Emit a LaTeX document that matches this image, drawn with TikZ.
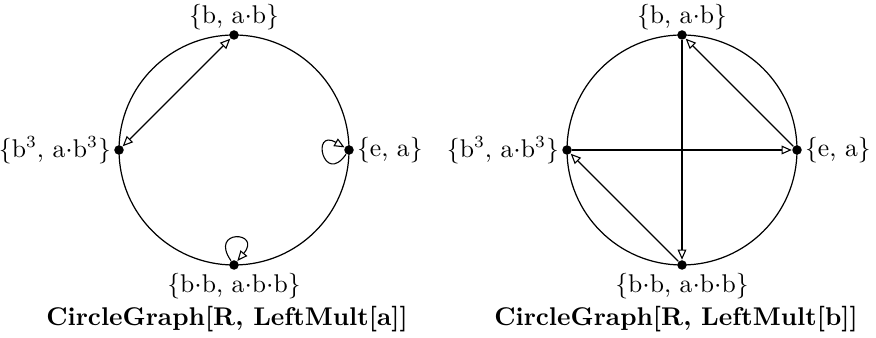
\documentclass[tikz,border=0pt]{standalone}
\usepackage{tikz}
\usetikzlibrary{arrows.meta, positioning}
\tikzset{
  vdot/.style ={circle, fill=black, inner sep=0pt, minimum size=3.9pt},
  vlbl/.style ={inner sep=1pt},
  garr/.style ={-{Triangle[open, length=4.2pt, width=3.6pt]}, line width=0.45pt},
  gdarr/.style={{Triangle[open, length=4.2pt, width=3.6pt]}-{Triangle[open, length=4.2pt, width=3.6pt]}, line width=0.45pt},
  gloop/.style={garr, min distance=16pt},
  gcap/.style ={font=\fontsize{10.5}{13}\selectfont\bfseries, inner sep=1pt},
  rim/.style  ={line width=0.5pt},
}
\begin{document}
\begin{tikzpicture}[x=0.41pt, y=-0.41pt, font=\fontsize{10.5}{13}\selectfont]
  \useasboundingbox (0,0) rectangle (876,338);
  \draw[rim] (234,150) circle[radius=115];
  \node[vdot] (a1) at (234,35) {};
  \node[vdot] (a2) at (119,150) {};
  \node[vdot] (a3) at (349,150) {};
  \node[vdot] (a4) at (234,265) {};
  \node[vlbl, above=-1.3pt of a1] (a1t) {\{b, a$\cdot$b\}};
  \node[vlbl, left=0pt of a2] (a2t) {\{b$^3$, a$\cdot$b$^3$\}};
  \node[vlbl, right=0pt of a3] (a3t) {\{e, a\}};
  \node[vlbl, below=0pt of a4] (a4t) {\{b$\cdot$b, a$\cdot$b$\cdot$b\}};
  \draw[gdarr] (a1) -- (a2);
  \draw[gloop] (a3) to[out=235, in=150] (a3);
  \draw[gloop] (a4) to[out=125, in=50] (a4);
  \node[gcap] (capa) at (227,319) {CircleGraph[R, LeftMult[a]]};

  \draw[rim] (682,150) circle[radius=115];
  \node[vdot] (b1) at (682,35) {};
  \node[vdot] (b2) at (567,150) {};
  \node[vdot] (b3) at (797,150) {};
  \node[vdot] (b4) at (682,265) {};
  \node[vlbl, above=-1.3pt of b1] (b1t) {\{b, a$\cdot$b\}};
  \node[vlbl, left=0pt of b2] (b2t) {\{b$^3$, a$\cdot$b$^3$\}};
  \node[vlbl, right=0pt of b3] (b3t) {\{e, a\}};
  \node[vlbl, below=0pt of b4] (b4t) {\{b$\cdot$b, a$\cdot$b$\cdot$b\}};
  \draw[garr] (b3) -- (b1);
  \draw[garr] (b1) -- (b4);
  \draw[garr] (b4) -- (b2);
  \draw[garr] (b2) -- (b3);
  \node[gcap] (capb) at (676,319) {CircleGraph[R, LeftMult[b]]};
\end{tikzpicture}
\end{document}
